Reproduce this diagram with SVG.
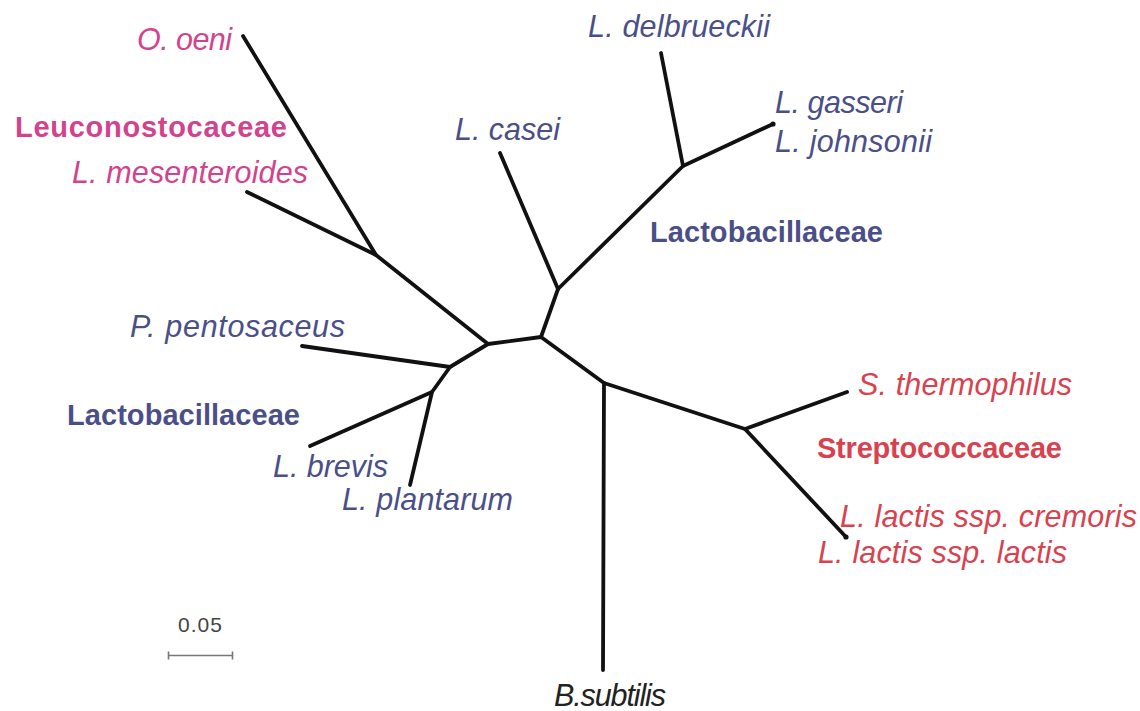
<svg xmlns="http://www.w3.org/2000/svg" width="1140" height="711" viewBox="0 0 1140 711">
<style>
text{font-family:"Liberation Sans",Arial,sans-serif}
.sp{font-style:italic;font-size:30.5px}
.fam{font-weight:bold;font-size:29px}
.pink{fill:#d2438e}
.blue{fill:#4b4f88}
.red{fill:#d8424f}
.br{fill:none;stroke:#111;stroke-width:3.8;stroke-linecap:round;stroke-linejoin:round}
</style>
<rect width="1140" height="711" fill="#fff"/>
<g id="connectors">
<polyline class="br" points="243,36 376,255 488,344"/>
<line class="br" x1="247" y1="192" x2="376" y2="255"/>
<polyline class="br" points="488,344 541,337 604,383 745,429 847,392"/>
<line class="br" x1="745" y1="429" x2="846" y2="537"/>
<line class="br" x1="604" y1="383" x2="603" y2="670"/>
<polyline class="br" points="541,337 558,289 683,166 773,124"/>
<line class="br" x1="558" y1="289" x2="500" y2="153"/>
<line class="br" x1="683" y1="166" x2="661" y2="53"/>
<polyline class="br" points="488,344 450,367 302,346"/>
<polyline class="br" points="450,367 432,392 310,446"/>
<line class="br" x1="432" y1="392" x2="410" y2="485"/>
<circle cx="773" cy="124" r="2.6" fill="#111"/>
<circle cx="846" cy="537" r="2.6" fill="#111"/>
</g>
<g id="n-ooeni"><text class="sp pink" x="137" y="50" textLength="95">O. oeni</text></g>
<g id="g-leuconostocaceae"><text class="fam pink" x="15" y="137" textLength="272">Leuconostocaceae</text></g>
<g id="n-lmesenteroides"><text class="sp pink" x="72" y="183" textLength="236">L. mesenteroides</text></g>
<g id="n-lcasei"><text class="sp blue" x="455" y="140" textLength="105">L. casei</text></g>
<g id="n-ldelbrueckii"><text class="sp blue" x="588" y="37" textLength="182">L. delbrueckii</text></g>
<g id="n-lgasseri"><text class="sp blue" x="775" y="113" textLength="128">L. gasseri</text></g>
<g id="n-ljohnsonii"><text class="sp blue" x="775" y="152" textLength="157">L. johnsonii</text></g>
<g id="g-lactobacillaceae-right"><text class="fam blue" x="650" y="242" textLength="233">Lactobacillaceae</text></g>
<g id="n-ppentosaceus"><text class="sp blue" x="130" y="337" textLength="215">P. pentosaceus</text></g>
<g id="g-lactobacillaceae-left"><text class="fam blue" x="67" y="425" textLength="233">Lactobacillaceae</text></g>
<g id="n-lbrevis"><text class="sp blue" x="273" y="477" textLength="115">L. brevis</text></g>
<g id="n-lplantarum"><text class="sp blue" x="342" y="510" textLength="171">L. plantarum</text></g>
<g id="n-sthermophilus"><text class="sp red" x="858" y="395" textLength="214">S. thermophilus</text></g>
<g id="g-streptococcaceae"><text class="fam red" x="817" y="458" textLength="245">Streptococcaceae</text></g>
<g id="n-llcremoris"><text class="sp red" x="840" y="527" textLength="297">L. lactis ssp. cremoris</text></g>
<g id="n-lllactis"><text class="sp red" x="818" y="563" textLength="249">L. lactis ssp. lactis</text></g>
<g id="n-bsubtilis"><text class="sp" fill="#222" x="554" y="706" textLength="112">B.subtilis</text></g>
<g id="scalebar">
<text x="178" y="632" font-size="21" fill="#444" textLength="44">0.05</text>
<path d="M168,655.5 H233 M168.5,651.5 V659.5 M232.5,651.5 V659.5" stroke="#777" stroke-width="1.6" fill="none"/>
</g>
</svg>
